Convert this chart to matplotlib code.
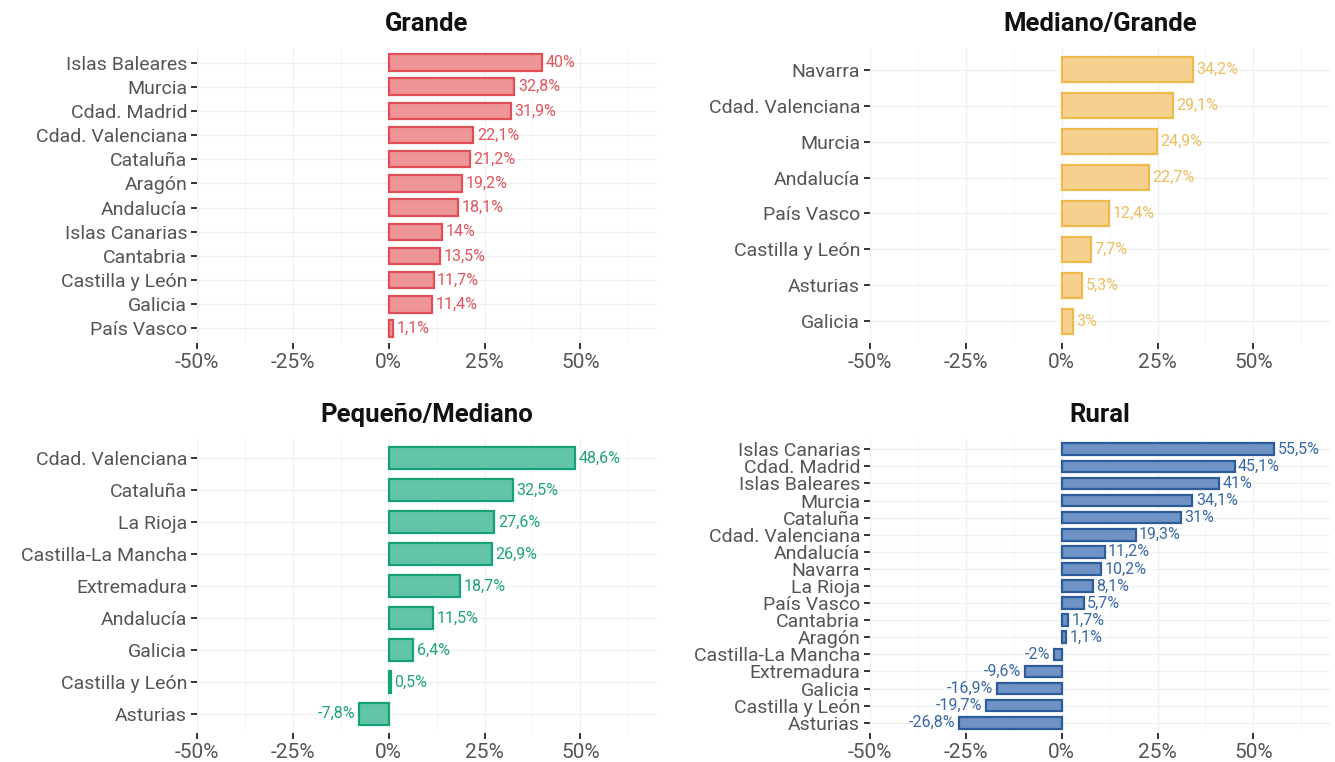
import matplotlib
matplotlib.use("Agg")
import matplotlib.pyplot as plt
from matplotlib.ticker import MultipleLocator, FuncFormatter

plt.rcParams['font.family'] = ['Roboto', 'DejaVu Sans']

# ---- data ----
grande_cats = ["Islas Baleares", "Murcia", "Cdad. Madrid", "Cdad. Valenciana", "Cataluña",
               "Aragón", "Andalucía", "Islas Canarias", "Cantabria", "Castilla y León",
               "Galicia", "País Vasco"]
grande_vals = [40, 32.8, 31.9, 22.1, 21.2, 19.2, 18.1, 14, 13.5, 11.7, 11.4, 1.1]

medgr_cats = ["Navarra", "Cdad. Valenciana", "Murcia", "Andalucía", "País Vasco",
              "Castilla y León", "Asturias", "Galicia"]
medgr_vals = [34.2, 29.1, 24.9, 22.7, 12.4, 7.7, 5.3, 3]

pequ_cats = ["Cdad. Valenciana", "Cataluña", "La Rioja", "Castilla-La Mancha", "Extremadura",
             "Andalucía", "Galicia", "Castilla y León", "Asturias"]
pequ_vals = [48.6, 32.5, 27.6, 26.9, 18.7, 11.5, 6.4, 0.5, -7.8]

rural_cats = ["Islas Canarias", "Cdad. Madrid", "Islas Baleares", "Murcia", "Cataluña",
              "Cdad. Valenciana", "Andalucía", "Navarra", "La Rioja", "País Vasco",
              "Cantabria", "Aragón", "Castilla-La Mancha", "Extremadura", "Galicia",
              "Castilla y León", "Asturias"]
rural_vals = [55.5, 45.1, 41, 34.1, 31, 19.3, 11.2, 10.2, 8.1, 5.7, 1.7, 1.1, -2, -9.6,
              -16.9, -19.7, -26.8]

titles = ["Grande", "Mediano/Grande", "Pequeño/Mediano", "Rural"]
x_ticks = [-50, -25, 0, 25, 50]

W, H = 1335, 762
fig = plt.figure(figsize=(W / 100, H / 100), dpi=100)

def ax_at(x0, y0, x1, y1):
    return fig.add_axes([x0 / W, 1 - y1 / H, (x1 - x0) / W, (y1 - y0) / H])

panels = [
    (ax_at(197, 48, 657, 343), grande_cats, grande_vals, "#EE9597", "#E04F58", "#E2545C"),
    (ax_at(870, 48, 1330, 343), medgr_cats, medgr_vals, "#F6D08E", "#EDBA4C", "#EDBE5E"),
    (ax_at(197, 439, 657, 733), pequ_cats, pequ_vals, "#62C5A7", "#16A277", "#1FA37A"),
    (ax_at(870, 439, 1330, 733), rural_cats, rural_vals, "#6F93C4", "#2D5C9A", "#3A68A6"),
]

def fmt_val(v):
    return f"{v:g}".replace(".", ",") + "%"

for (ax, cats, vals, fc, ec, tc), title in zip(panels, titles):
    n = len(cats)
    ys = list(range(n))
    ax.barh(ys, vals, height=0.68, color=fc, edgecolor=ec, linewidth=1.6, zorder=3)
    for y, v in zip(ys, vals):
        if v >= 0:
            ax.annotate(fmt_val(v), (v, y), xytext=(2.5, 0), textcoords="offset points",
                        ha="left", va="center", fontsize=11.5, color=tc, zorder=4)
        else:
            ax.annotate(fmt_val(v), (v, y), xytext=(-2.5, 0), textcoords="offset points",
                        ha="right", va="center", fontsize=11.5, color=tc, zorder=4)
    ax.set_yticks(ys)
    ax.set_yticklabels(cats)
    ax.set_ylim(n - 1 + 0.6, -0.6)
    ax.set_xlim(-50, 70)
    ax.set_xticks(x_ticks)
    ax.xaxis.set_major_formatter(FuncFormatter(lambda x, p: f"{x:g}%"))
    ax.xaxis.set_minor_locator(MultipleLocator(12.5))
    for s in ax.spines.values():
        s.set_visible(False)
    ax.grid(True, which="major", color="#F0F0F0", linewidth=0.9, zorder=0)
    ax.grid(True, which="minor", axis="x", color="#F6F6F6", linewidth=0.7, zorder=0)
    ax.tick_params(axis="both", which="major", length=4, width=1.4, color="#333333",
                   labelcolor="#555555", labelsize=14, pad=3)
    ax.tick_params(axis="x", which="major", labelsize=15)
    ax.tick_params(axis="x", which="minor", length=0)
    ax.set_title(title, fontsize=18.5, fontweight="bold", color="#111111", pad=12)

fig.savefig("out.png", dpi=100, facecolor="white")
